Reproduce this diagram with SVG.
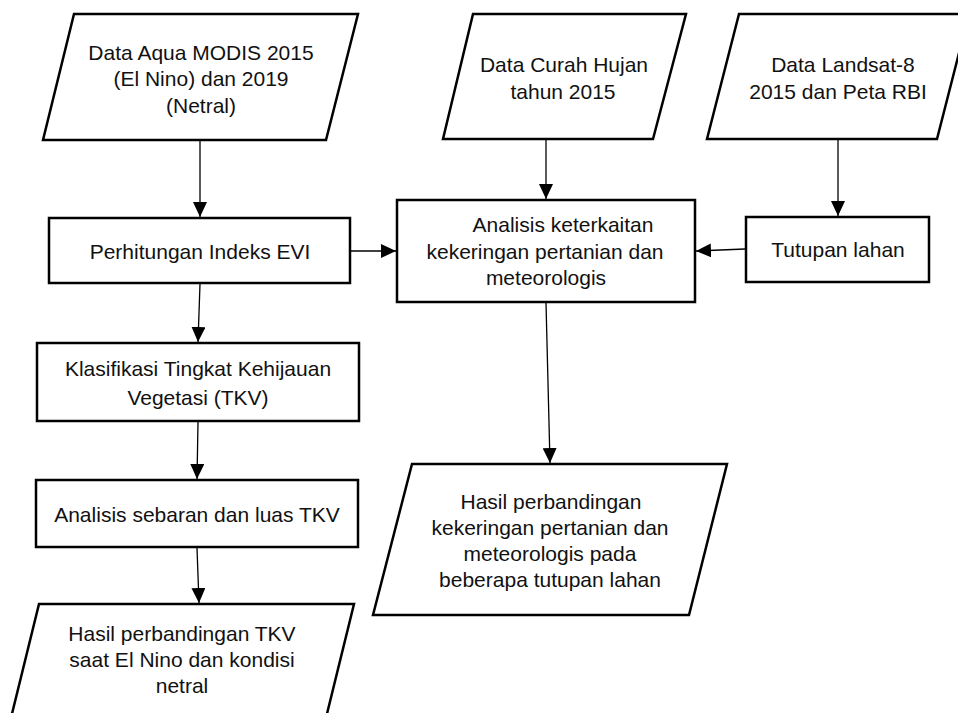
<svg xmlns="http://www.w3.org/2000/svg" width="958" height="713" viewBox="0 0 958 713">
<defs>
<marker id="ah" markerUnits="userSpaceOnUse" markerWidth="15" markerHeight="14" refX="15" refY="7" orient="auto">
<path d="M0,0 L15,7 L0,14 z" fill="#000"/>
</marker>
<style>
.sh{fill:#fff;stroke:#000;stroke-width:2.5;stroke-linejoin:miter}
.t{font-family:"Liberation Sans",Arial,sans-serif;font-size:21px;fill:#111;text-anchor:middle}
.c{fill:none;stroke:#000;stroke-width:1.3;marker-end:url(#ah)}
</style>
</defs>
<rect width="958" height="713" fill="#fff"/>
<g id="n-aqua">
<polygon class="sh" points="74,14 358,14 326,140 43,140"/>
<text class="t" x="201" y="60">Data Aqua MODIS 2015</text>
<text class="t" x="201" y="86">(El Nino) dan 2019</text>
<text class="t" x="201" y="113">(Netral)</text>
</g>
<g id="n-curah">
<polygon class="sh" points="473,14 686,14 653,139 443,139"/>
<text class="t" x="564" y="72">Data Curah Hujan</text>
<text class="t" x="563" y="99">tahun 2015</text>
</g>
<g id="n-landsat">
<polygon class="sh" points="739,14 969,14 937,139 707,139"/>
<text class="t" x="843" y="72">Data Landsat-8</text>
<text class="t" x="838" y="99">2015 dan Peta RBI</text>
</g>
<g id="n-evi">
<rect class="sh" x="49" y="218" width="301" height="65"/>
<text class="t" x="200" y="259">Perhitungan Indeks EVI</text>
</g>
<g id="n-analisis">
<rect class="sh" x="397" y="200" width="298" height="102"/>
<text class="t" x="563" y="232">Analisis keterkaitan</text>
<text class="t" x="545" y="259">kekeringan pertanian dan</text>
<text class="t" x="546" y="285">meteorologis</text>
</g>
<g id="n-tutupan">
<rect class="sh" x="746" y="217" width="183" height="65"/>
<text class="t" x="838" y="257">Tutupan lahan</text>
</g>
<g id="n-klasifikasi">
<rect class="sh" x="37" y="343" width="322" height="78"/>
<text class="t" x="198" y="376">Klasifikasi Tingkat Kehijauan</text>
<text class="t" x="198" y="405">Vegetasi (TKV)</text>
</g>
<g id="n-sebaran">
<rect class="sh" x="36" y="480" width="322" height="67"/>
<text class="t" x="197" y="522">Analisis sebaran dan luas TKV</text>
</g>
<g id="n-hasil-tkv">
<polygon class="sh" points="39,604 354,604 323,730 8,730"/>
<text class="t" x="182" y="641">Hasil perbandingan TKV</text>
<text class="t" x="182" y="667">saat El Nino dan kondisi</text>
<text class="t" x="182" y="693">netral</text>
</g>
<g id="n-hasil">
<polygon class="sh" points="412,464 727,464 689,615 373,615"/>
<text class="t" x="551" y="509">Hasil perbandingan</text>
<text class="t" x="550" y="535">kekeringan pertanian dan</text>
<text class="t" x="550" y="561">meteorologis pada</text>
<text class="t" x="550" y="587">beberapa tutupan lahan</text>
</g>
<g id="connectors">
<line class="c" x1="200" y1="141" x2="200" y2="217"/>
<line class="c" x1="546" y1="140" x2="546" y2="199"/>
<line class="c" x1="838" y1="140" x2="838" y2="216"/>
<line class="c" x1="351" y1="251" x2="396" y2="251"/>
<line class="c" x1="745" y1="249" x2="696" y2="251"/>
<line class="c" x1="200" y1="284" x2="198" y2="342"/>
<line class="c" x1="198" y1="422" x2="197" y2="479"/>
<line class="c" x1="197" y1="548" x2="199" y2="603"/>
<line class="c" x1="546" y1="303" x2="550" y2="463"/>
</g>
</svg>
